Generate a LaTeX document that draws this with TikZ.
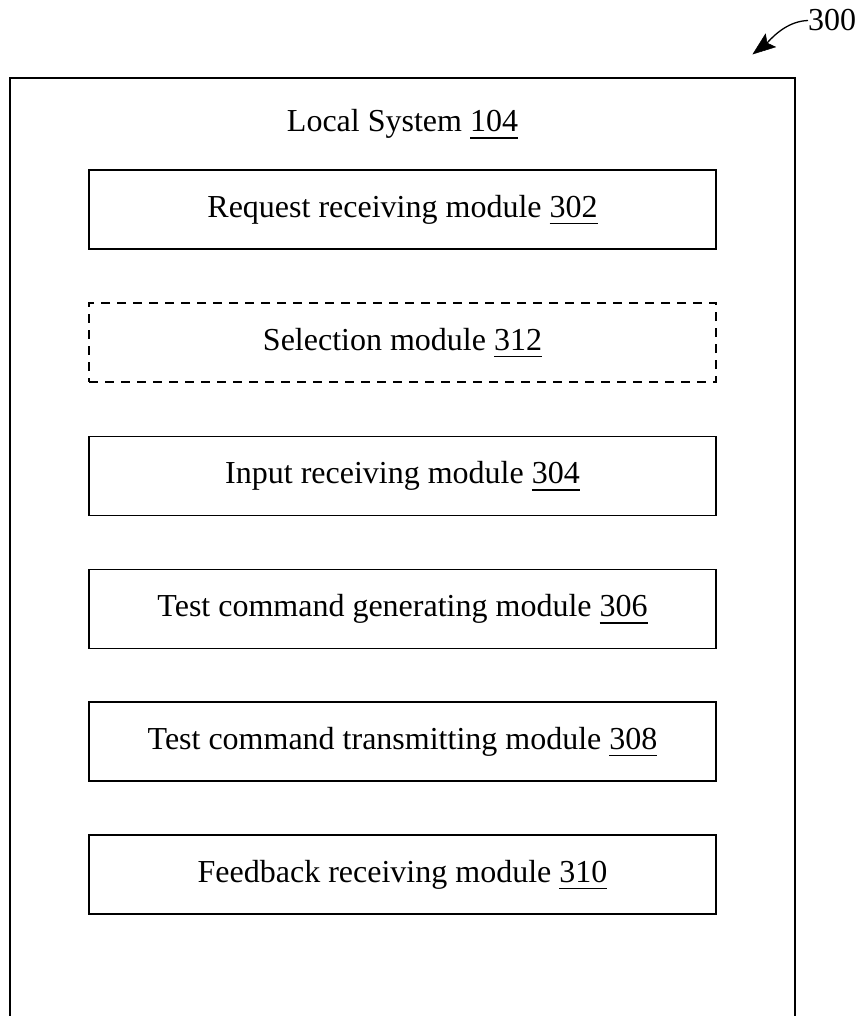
\documentclass[tikz,border=0pt]{standalone}
\usepackage{fontspec}
\setmainfont{Liberation Serif}
\usetikzlibrary{arrows.meta}
\newcommand\refnum[1]{\setbox0\hbox{#1}\leavevmode\rlap{\rule[-7pt]{\wd0}{1.6pt}}\box0}
\begin{document}
\begin{tikzpicture}[x=1pt,y=-1pt,
  every node/.style={font=\fontsize{32}{38}\selectfont, inner sep=0pt},
  modbox/.style={draw, line width=1.4pt, minimum width=627pt, minimum height=79pt},
  dashbox/.style={modbox, dash pattern=on 9pt off 7pt},
  outerline/.style={line width=1.8pt},
  refline/.style={line width=1.3pt},
  refhead/.style={fill=black, draw=black, line width=0.5pt, line join=miter}]
\useasboundingbox (0,0) rectangle (861,1016);
\draw[outerline] (10,1016) -- (10,78) -- (795,78) -- (795,1016);
\node[anchor=base] (title) at (402.5,132) {Local System \refnum{104}};
\node[modbox] (m302) at (402.5,209.5) {Request receiving module \refnum{302}};
\node[dashbox] (m312) at (402.5,342.5) {Selection module \refnum{312}};
\node[modbox] (m304) at (402.5,476) {Input receiving module \refnum{304}};
\node[modbox] (m306) at (402.5,609) {Test command generating module \refnum{306}};
\node[modbox] (m308) at (402.5,741.5) {Test command transmitting module \refnum{308}};
\node[modbox] (m310) at (402.5,874.5) {Feedback receiving module \refnum{310}};
\node[anchor=base west] (lbl) at (808,31) {300};
\coordinate (tip) at (753,54);
\coordinate (hin) at (767,43);
\coordinate (hl) at (775.5,47);
\coordinate (hr) at (765.5,34);
\draw[refline] (lbl.west) .. controls (790,21) and (776,33) .. (hin);
\fill[refhead] (tip) -- (hl) -- (hin) -- (hr) -- cycle;
\end{tikzpicture}
\end{document}
